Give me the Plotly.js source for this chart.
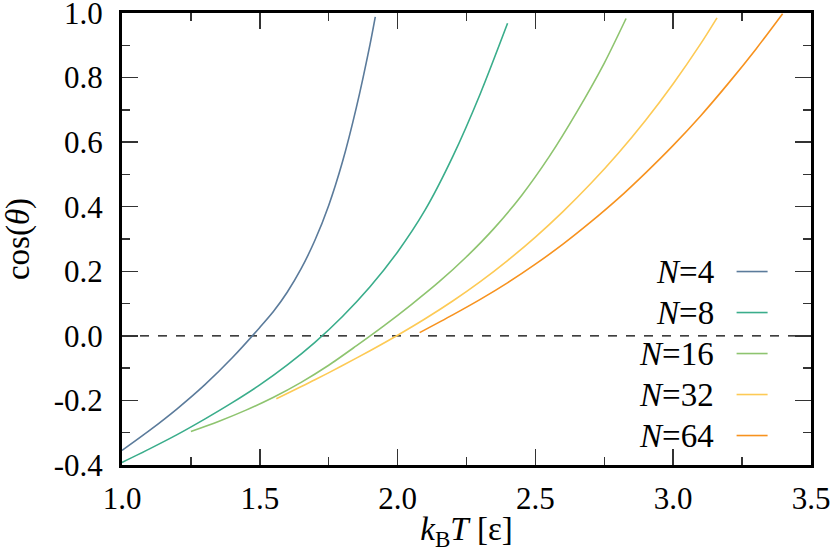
<!DOCTYPE html>
<html>
<head>
<meta charset="utf-8">
<script src="https://cdn.plot.ly/plotly-3.0.1.min.js"></script>
<style>
  body { margin: 0; background: #fff; }
  #grafico { width: 830px; height: 555px; }
</style>
</head>
<body>
<div id="grafico"></div>
<script>
// cos(theta) against temperature for each chain length N
const labels = ['4', '8', '16', '32', '64'];
const colors = ['#5b7b9b', '#3aad8b', '#8ec46f', '#fdca55', '#f7921e'];

const tN4 = [1.0, 1.1, 1.2, 1.3, 1.4, 1.5, 1.55, 1.6, 1.65, 1.7, 1.75, 1.8, 1.85, 1.9, 1.919];
const cN4 = [-0.355, -0.293, -0.226, -0.152, -0.068, 0.026, 0.076, 0.136, 0.208, 0.296, 0.404, 0.539, 0.706, 0.903, 0.988];

const tN8 = [1.0, 1.1, 1.2, 1.3, 1.4, 1.5, 1.6, 1.7, 1.8, 1.9, 2.0, 2.1, 2.2, 2.3, 2.399];
const cN8 = [-0.392, -0.35, -0.306, -0.258, -0.207, -0.152, -0.09, -0.02, 0.06, 0.152, 0.26, 0.39, 0.555, 0.75, 0.968];

const tN16 = [1.25, 1.35, 1.45, 1.55, 1.65, 1.75, 1.85, 1.95, 2.05, 2.15, 2.25, 2.35, 2.45, 2.55, 2.65, 2.75, 2.829];
const cN16 = [-0.296, -0.265, -0.23, -0.19, -0.144, -0.091, -0.031, 0.031, 0.097, 0.167, 0.245, 0.333, 0.435, 0.555, 0.693, 0.845, 0.983];

const tN32 = [1.56, 1.7, 1.8, 1.9, 2.0, 2.1, 2.2, 2.3, 2.4, 2.5, 2.6, 2.7, 2.8, 2.9, 3.0, 3.1, 3.159];
const cN32 = [-0.195, -0.136, -0.092, -0.046, 0.002, 0.053, 0.108, 0.168, 0.234, 0.306, 0.385, 0.471, 0.565, 0.668, 0.781, 0.905, 0.985];

const tN64 = [2.08, 2.2, 2.3, 2.4, 2.5, 2.6, 2.7, 2.8, 2.9, 3.0, 3.1, 3.2, 3.3, 3.397];
const cN64 = [0.01, 0.065, 0.113, 0.165, 0.222, 0.284, 0.352, 0.425, 0.505, 0.59, 0.682, 0.782, 0.888, 0.998];

const xs = [tN4, tN8, tN16, tN32, tN64];
const ys = [cN4, cN8, cN16, cN32, cN64];

const yTicks = [-0.4, -0.2, 0.0, 0.2, 0.4, 0.6, 0.8, 1.0];
const yTickText = ['-0.4', '-0.2', '0.0', '0.2', '0.4', '0.6', '0.8', '1.0'];
const xTicks = [1.0, 1.5, 2.0, 2.5, 3.0, 3.5];
const xTickText = ['1.0', '1.5', '2.0', '2.5', '3.0', '3.5'];

const serif = 'Times New Roman';
const textFont = (size) => ({ family: serif, size: size, color: '#000' });

const data = labels.map((n, i) => ({
    x: xs[i],
    y: ys[i],
    type: 'scatter',
    mode: 'lines',
    line: { color: colors[i], width: 1.6, shape: 'spline', smoothing: 0.8 },
    name: 'N=' + n,
    showlegend: false
}));

// legend drawn by hand: text on the left, line sample on the right
const legendTop = 0.428;
const legendStep = 0.0907;
const annotations = labels.map((n, i) => ({
    xref: 'paper', yref: 'paper',
    x: 0.862, y: legendTop - i * legendStep,
    xanchor: 'right', yanchor: 'middle',
    text: '<i>N</i>=' + n,
    showarrow: false,
    font: textFont(33)
}));
const shapes = labels.map((n, i) => ({
    type: 'line', xref: 'paper', yref: 'paper',
    x0: 0.892, x1: 0.937,
    y0: legendTop - i * legendStep, y1: legendTop - i * legendStep,
    line: { color: colors[i], width: 1.6 }
}));
// dashed zero line
shapes.push({
    type: 'line', xref: 'paper', yref: 'y',
    x0: 0, x1: 1, y0: 0, y1: 0,
    line: { color: '#000', width: 1.2, dash: 'dash' },
    layer: 'below'
});

function axisCommon() {
    return {
        showgrid: false,
        zeroline: false,
        showline: true,
        linecolor: '#000',
        linewidth: 3,
        mirror: 'allticks',
        ticks: 'inside',
        ticklen: 16,
        tickwidth: 1.5,
        tickcolor: '#333',
        tickfont: textFont(31),
        ticklabeloverflow: 'allow',
        tickmode: 'array'
    };
}

const layout = {
    width: 830,
    height: 555,
    margin: { l: 122, r: 19, t: 13, b: 90 },
    paper_bgcolor: '#fff',
    plot_bgcolor: '#fff',
    font: textFont(31),
    xaxis: Object.assign(axisCommon(), {
        range: [1.0, 3.5],
        tickvals: xTicks,
        ticktext: xTickText,
        ticklabelstandoff: 4,
        minor: { tickmode: 'linear', tick0: 1.0, dtick: 0.25, ticks: 'inside', ticklen: 8, tickwidth: 1.5, tickcolor: '#333' },
        title: {
            text: '<i>k</i><sub>B</sub><i>T</i> [ε]',
            font: textFont(33),
            standoff: 2
        }
    }),
    yaxis: Object.assign(axisCommon(), {
        range: [-0.4, 1.0],
        tickvals: yTicks,
        ticktext: yTickText,
        ticklabelstandoff: 10,
        minor: { tickmode: 'linear', tick0: -0.4, dtick: 0.1, ticks: 'inside', ticklen: 8, tickwidth: 1.5, tickcolor: '#333' },
        title: {
            text: 'cos(<i>θ</i>)',
            font: textFont(33),
            standoff: 15
        }
    }),
    annotations: annotations,
    shapes: shapes
};

Plotly.newPlot('grafico', data, layout, { staticPlot: true });
</script>
</body>
</html>
